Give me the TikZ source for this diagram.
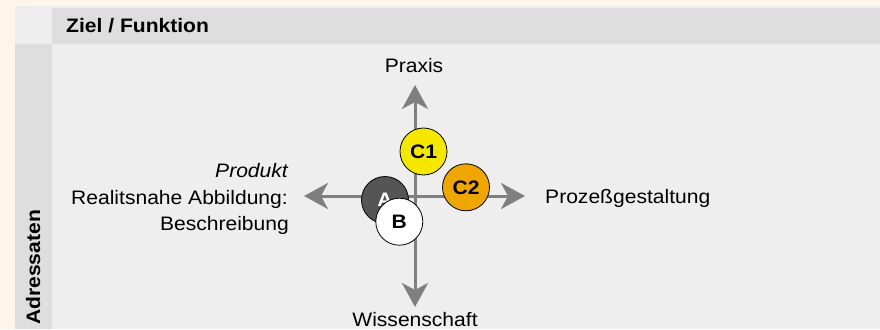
\documentclass[tikz,border=0pt]{standalone}
\usepackage{fontspec}
\setmainfont{Liberation Sans}[FakeStretch=1.08]
\usetikzlibrary{arrows.meta}
\definecolor{cream}{HTML}{FFF5E8}
\definecolor{panel}{HTML}{EEEEEE}
\definecolor{band}{HTML}{DEDEDE}
\definecolor{axis}{HTML}{7F7F7F}
\definecolor{cyellow}{HTML}{F5E800}
\definecolor{corange}{HTML}{F0A600}
\definecolor{cdark}{HTML}{555555}
\tikzset{
  x=1pt, y=-1pt,
  txt/.style={inner sep=0pt, font=\fontsize{19.5}{24}\selectfont},
  head/.style={txt, font=\fontsize{19.5}{24}\selectfont\bfseries},
  axisline/.style={draw=axis, line width=3pt,
    {Stealth[length=24pt,width=26pt,inset=7pt]}-{Stealth[length=24pt,width=26pt,inset=7pt]}},
  bubble/.style={circle, draw=black, line width=0.8pt, minimum size=47pt, inner sep=0pt,
    font=\fontsize{19.5}{22}\selectfont\bfseries},
}
\begin{document}
\begin{tikzpicture}
% background and panel
\fill[cream] (0,0) rectangle (880,329);
\fill[panel] (15,6) rectangle (880,329);
\fill[band] (52,8) rectangle (880,44);
\fill[band] (15,44) rectangle (52,329);
\useasboundingbox (0,0) rectangle (880,329);

% headings
\node[head, anchor=base west] (ziel) at (66,33) {Ziel / Funktion};
\node[head, anchor=base west, rotate=90] (adr) at (40,325) {Adressaten};

% axis end points
\coordinate (top) at (415,85);
\coordinate (bottom) at (415,307);
\coordinate (left) at (304,196);
\coordinate (right) at (525,196);
\draw[axisline] (top) -- (bottom);
\draw[axisline] (left) -- (right);

% axis labels
\node[txt, anchor=base] (praxis) at (414,72) {Praxis};
\node[txt, anchor=base] (wiss) at (415,326) {Wissenschaft};
\node[txt, anchor=base west] (proz) at (545,203) {Prozeßgestaltung};
\node[txt, anchor=base east] (prod) at (288,177) {\itshape Produkt};
\node[txt, anchor=base east] (real) at (288,204) {Realitsnahe Abbildung:};
\node[txt, anchor=base east] (besch) at (289,230) {Beschreibung};

% positions
\node[bubble, fill=cyellow] (c1) at (423.5,151.5) {C1};
\node[bubble, fill=corange] (c2) at (466,187.3) {C2};
\node[bubble, fill=cdark, text=white] (a) at (385,200) {A};
\node[bubble, fill=white] (b) at (399.3,221.7) {B};
\end{tikzpicture}
\end{document}
